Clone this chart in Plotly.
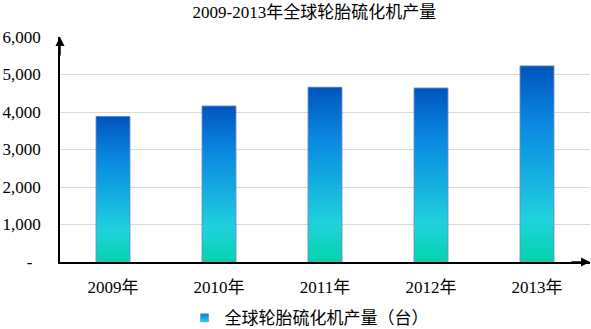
import plotly.graph_objects as go
from plotly.colors import sample_colorscale

# ---- data ----
years = ["2009年", "2010年", "2011年", "2012年", "2013年"]
output = [3880, 4160, 4660, 4640, 5230]
y_tickvals = [0, 1000, 2000, 3000, 4000, 5000, 6000]
y_ticktext = ["-\u00a0\u00a0", "1,000", "2,000", "3,000", "4,000", "5,000", "6,000"]
series_name = "全球轮胎硫化机产量（台）"
title_text = "2009-2013年全球轮胎硫化机产量"

# ---- style ----
grad = [[0.0, "#03d4ab"], [0.22, "#20d2de"], [0.5, "#12a6e0"],
        [0.72, "#0a86e0"], [1.0, "#0055bd"]]
n_slices = 60
bar_width = 0.32
font_fam = "Liberation Serif, Noto Sans CJK SC, serif"

xs = list(range(len(years)))
fig = go.Figure()

cols = sample_colorscale(grad, [(k + 0.5) / n_slices for k in range(n_slices)])
for k in range(n_slices):
    # each layer spans from its start fraction up to the bar top; later layers cover earlier ones
    fig.add_trace(go.Bar(
        x=xs,
        y=[v * (n_slices - k) / n_slices for v in output],
        base=[v * k / n_slices for v in output],
        width=bar_width,
        marker=dict(color=cols[k], line=dict(width=0)),
        showlegend=False,
        hoverinfo="skip",
    ))

# outline
fig.add_trace(go.Bar(
    x=xs, y=output, width=bar_width,
    marker=dict(color="rgba(0,0,0,0)", line=dict(color="rgba(110,140,200,0.9)", width=1)),
    showlegend=False, name=series_name,
))

# legend entry
fig.add_trace(go.Scatter(
    x=[None], y=[None], mode="markers", name=series_name,
    marker=dict(symbol="square", size=8, color="#0a7fe0",
                gradient=dict(type="vertical", color="#20d2de"),
                line=dict(color="#5a7fbf", width=0.5)),
))

fig.update_layout(
    width=591, height=329,
    margin=dict(l=60, r=1, t=37, b=67, autoexpand=False),
    paper_bgcolor="white", plot_bgcolor="white",
    barmode="overlay",
    font=dict(family=font_fam, size=17, color="#000000"),
    title=dict(text=title_text, x=0.532, xanchor="center", y=0.962, yanchor="middle",
               yref="container", font=dict(family=font_fam, size=17, color="#000000")),
    showlegend=True,
    legend=dict(orientation="h", x=0.235, xanchor="left", y=-0.17, yanchor="top",
                font=dict(family=font_fam, size=17), itemwidth=30,
                bgcolor="rgba(0,0,0,0)"),
    xaxis=dict(range=[-0.5, 4.5], tickvals=xs, ticktext=years, showgrid=False,
               zeroline=False, showline=True, linecolor="black", linewidth=1.5,
               ticks="outside", ticklen=0, ticklabelstandoff=9, fixedrange=True,
               automargin=False, tickfont=dict(size=17)),
    yaxis=dict(range=[0, 6000], tickvals=y_tickvals, ticktext=y_ticktext,
               showgrid=True, gridcolor="#d9d9d9", gridwidth=1, zeroline=False,
               showline=True, linecolor="black", linewidth=1.5,
               ticks="outside", ticklen=0, ticklabelstandoff=14, fixedrange=True,
               automargin=False, tickfont=dict(size=17)),
)

# axis arrowheads
fig.add_annotation(x=0, y=1, xref="x domain", yref="y domain", ax=0, ay=20,
                   axref="pixel", ayref="pixel", text="", showarrow=True,
                   arrowhead=2, arrowsize=1.2, arrowwidth=1.5, arrowcolor="black")
fig.add_annotation(x=1, y=0, xref="x domain", yref="y domain", ax=-20, ay=0,
                   axref="pixel", ayref="pixel", text="", showarrow=True,
                   arrowhead=2, arrowsize=1.2, arrowwidth=1.5, arrowcolor="black")

fig.write_html("out.html")
